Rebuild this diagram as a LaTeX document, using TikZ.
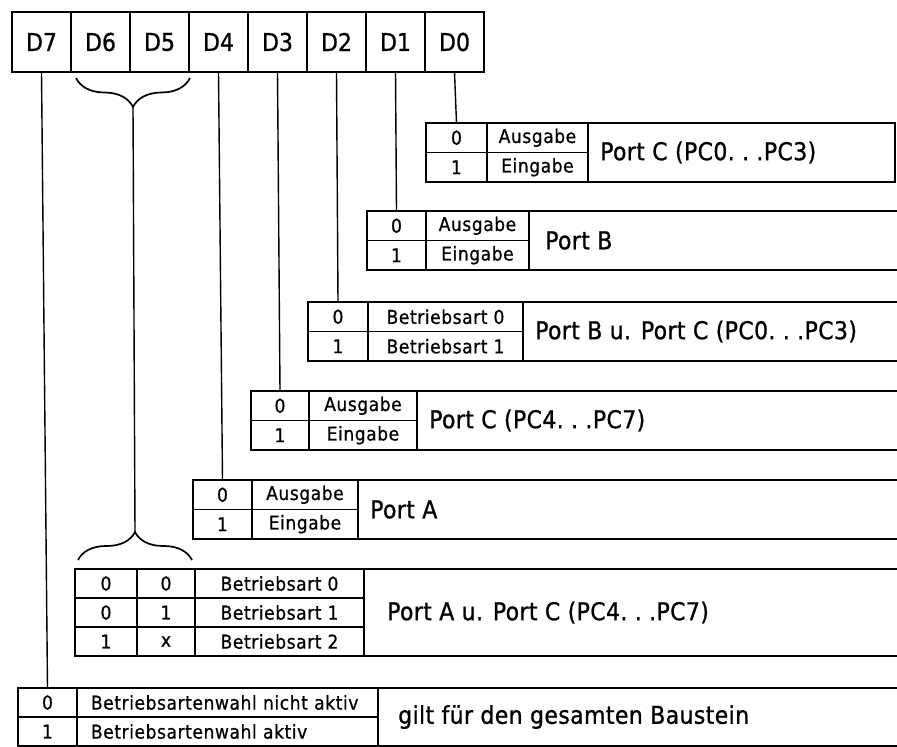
\documentclass[tikz,border=0pt]{standalone}
\usepackage{fontspec}
\setmainfont{DejaVu Sans Condensed}[FakeBold=0.9]
\newfontfamily\cellfont{DejaVu Sans Condensed}[LetterSpace=3,FakeBold=0.7]
\newfontfamily\portfont{DejaVu Sans Condensed}[LetterSpace=1.5,FakeBold=0.9]
\usetikzlibrary{decorations.pathreplacing}

\begin{document}
\begin{tikzpicture}[x=1pt,y=-1pt,
	regcell/.style={draw,line width=2pt,minimum width=59pt,minimum height=60pt,inner sep=0pt,outer sep=0pt,font=\fontsize{24.5}{26}\selectfont},
	bitcell/.style={draw,line width=1.9pt,minimum height=29.5pt,inner sep=0pt,outer sep=0pt,anchor=north west,font=\cellfont\fontsize{19}{21}\selectfont},
	field/.style={draw,line width=1.9pt},
	portlabel/.style={anchor=west,inner sep=0pt,font=\portfont\fontsize{24.5}{26}\selectfont},
	wire/.style={line width=1.4pt},
	bracket/.style={line width=1.7pt,decorate,decoration={brace,amplitude=#1}}]
	\useasboundingbox (0,0) rectangle (897,747);
	
	% control word D7 ... D0
	\foreach \n/\x in {7/41.5,6/100.5,5/159.5,4/218.5,3/277.5,2/336.5,1/395.5,0/454.5}
		\node[regcell] (d\n) at (\x,42) {D\n};
	
	% D0: Port C lower
	\node[bitcell,minimum width=61pt] (pcl0) at (426,123) {0};
	\node[bitcell,minimum width=61pt] (pcl1) at (pcl0.south west) {1};
	\node[bitcell,minimum width=101pt] (pclA) at (pcl0.north east) {Ausgabe};
	\node[bitcell,minimum width=101pt] (pclE) at (pclA.south west) {Eingabe};
	\draw[field] (pclA.north east) rectangle (895,182);
	\node[portlabel] (pcl) at (600,152.5) {Port C (PC0.\ .\ .PC3)};
	
	% D1: Port B
	\node[bitcell,minimum width=59pt] (pb0) at (367,211) {0};
	\node[bitcell,minimum width=59pt] (pb1) at (pb0.south west) {1};
	\node[bitcell,minimum width=103pt] (pbA) at (pb0.north east) {Ausgabe};
	\node[bitcell,minimum width=103pt] (pbE) at (pbA.south west) {Eingabe};
	\draw[field] (pbA.north east) rectangle (920,270);
	\node[portlabel] (pb) at (545,240.5) {Port B};
	
	% D2: group B
	\node[bitcell,minimum width=60pt] (gb0) at (308,302) {0};
	\node[bitcell,minimum width=60pt] (gb1) at (gb0.south west) {1};
	\node[bitcell,minimum width=155pt] (gbM0) at (gb0.north east) {Betriebsart 0};
	\node[bitcell,minimum width=155pt] (gbM1) at (gbM0.south west) {Betriebsart 1};
	\draw[field] (gbM0.north east) rectangle (920,361);
	\node[portlabel] (gb) at (535,331.5) {Port B u. Port C (PC0.\ .\ .PC3)};
	
	% D3: Port C upper
	\node[bitcell,minimum width=58pt] (pcu0) at (251,391) {0};
	\node[bitcell,minimum width=58pt] (pcu1) at (pcu0.south west) {1};
	\node[bitcell,minimum width=108pt] (pcuA) at (pcu0.north east) {Ausgabe};
	\node[bitcell,minimum width=108pt] (pcuE) at (pcuA.south west) {Eingabe};
	\draw[field] (pcuA.north east) rectangle (920,450);
	\node[portlabel] (pcu) at (429,420.5) {Port C (PC4.\ .\ .PC7)};
	
	% D4: Port A
	\node[bitcell,minimum width=59pt] (pa0) at (193,480) {0};
	\node[bitcell,minimum width=59pt] (pa1) at (pa0.south west) {1};
	\node[bitcell,minimum width=106pt] (paA) at (pa0.north east) {Ausgabe};
	\node[bitcell,minimum width=106pt] (paE) at (paA.south west) {Eingabe};
	\draw[field] (paA.north east) rectangle (920,539);
	\node[portlabel] (pa) at (370,509.5) {Port A};
	
	% D6 D5: group A
	\node[bitcell,minimum width=62pt,minimum height=29pt] (ga00) at (75,569) {0};
	\node[bitcell,minimum width=58pt,minimum height=29pt] (ga01) at (ga00.north east) {0};
	\node[bitcell,minimum width=169pt,minimum height=29pt] (gaM0) at (ga01.north east) {Betriebsart 0};
	\node[bitcell,minimum width=62pt,minimum height=29pt] (ga10) at (ga00.south west) {0};
	\node[bitcell,minimum width=58pt,minimum height=29pt] (ga11) at (ga10.north east) {1};
	\node[bitcell,minimum width=169pt,minimum height=29pt] (gaM1) at (ga11.north east) {Betriebsart 1};
	\node[bitcell,minimum width=62pt,minimum height=29pt] (ga20) at (ga10.south west) {1};
	\node[bitcell,minimum width=58pt,minimum height=29pt] (ga21) at (ga20.north east) {x};
	\node[bitcell,minimum width=169pt,minimum height=29pt] (gaM2) at (ga21.north east) {Betriebsart 2};
	\draw[field] (gaM0.north east) rectangle (920,656);
	\node[portlabel] (ga) at (387,612.5) {Port A u. Port C (PC4.\ .\ .PC7)};
	
	% D7: mode set flag
	\node[bitcell,minimum width=59pt,minimum height=29pt] (mw0) at (18,688) {0};
	\node[bitcell,minimum width=59pt,minimum height=29pt] (mw1) at (mw0.south west) {1};
	\node[bitcell,minimum width=301pt,minimum height=29pt,text width=273pt,align=left] (mwN) at (mw0.north east) {Betriebsartenwahl nicht aktiv};
	\node[bitcell,minimum width=301pt,minimum height=29pt,text width=273pt,align=left] (mwA) at (mwN.south west) {Betriebsartenwahl aktiv};
	\draw[field] (mwN.north east) rectangle (920,746);
	\node[portlabel] (mw) at (398,717) {gilt für den gesamten Baustein};
	
	% braces for D6 D5
	\coordinate (bt1) at (133,107);
	\coordinate (bt2) at (135,532);
	\draw[bracket=29pt] (190,78) -- (76,78);
	\draw[bracket=28pt] (78,560) -- (192,560);
	
	% bit lines
	\draw[wire] (d0.south) -- (pcl0.north);
	\draw[wire] (d1.south) -- (pb0.north);
	\draw[wire] (d2.south) -- (gb0.north);
	\draw[wire] (d3.south) -- (pcu0.north);
	\draw[wire] (d4.south) -- (pa0.north);
	\draw[wire] (bt1) -- (bt2);
	\draw[wire] (d7.south) -- (mw0.north);
\end{tikzpicture}
\end{document}
